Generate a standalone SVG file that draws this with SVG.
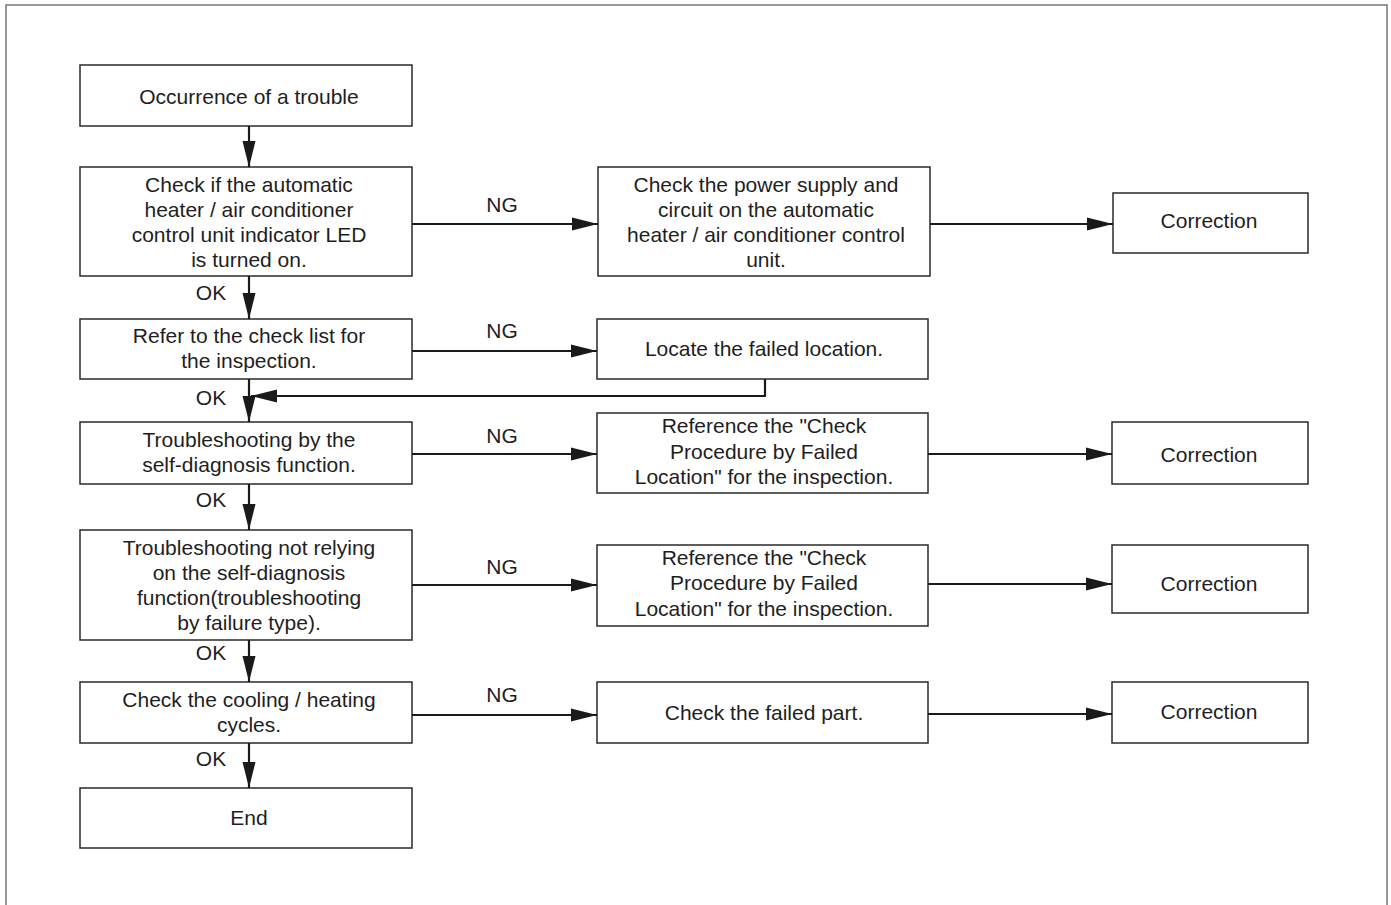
<svg xmlns="http://www.w3.org/2000/svg" width="1391" height="905" viewBox="0 0 1391 905">
<defs>
<marker id="ah" markerUnits="userSpaceOnUse" markerWidth="30" markerHeight="16" refX="26" refY="7" orient="auto" overflow="visible">
<path d="M0,0.5 L8,2.5 L26,7 L8,11.5 L0,13.5 Z" fill="#1a1a1a"/>
</marker>
<style>
.box{fill:#fff;stroke:#2a2a2a;stroke-width:1.5}
.t{font-family:"Liberation Sans",Arial,sans-serif;font-size:21px;fill:#1e1e1e;text-anchor:middle}
.lbl{font-family:"Liberation Sans",Arial,sans-serif;font-size:21px;fill:#1e1e1e;text-anchor:middle}
.c{fill:none;stroke:#1a1a1a;stroke-width:2.2;marker-end:url(#ah)}
.frame{fill:none;stroke:#777;stroke-width:1.5}
</style>
</defs>
<rect width="1391" height="905" fill="#fff"/>
<path class="frame" d="M6,905 V5 H1387 V905"/>

<g id="n1"><rect class="box" x="80" y="65" width="332" height="61"/><text class="t" x="249" y="104">Occurrence of a trouble</text></g>
<g id="n2"><rect class="box" x="80" y="167" width="332" height="109"/>
<text class="t" x="249" y="192">Check if the automatic</text>
<text class="t" x="249" y="217">heater / air conditioner</text>
<text class="t" x="249" y="242">control unit indicator LED</text>
<text class="t" x="249" y="267">is turned on.</text></g>
<g id="n3"><rect class="box" x="80" y="319" width="332" height="60"/>
<text class="t" x="249" y="343">Refer to the check list for</text>
<text class="t" x="249" y="368">the inspection.</text></g>
<g id="n4"><rect class="box" x="80" y="422" width="332" height="62"/>
<text class="t" x="249" y="447">Troubleshooting by the</text>
<text class="t" x="249" y="472">self-diagnosis function.</text></g>
<g id="n5"><rect class="box" x="80" y="530" width="332" height="110"/>
<text class="t" x="249" y="555">Troubleshooting not relying</text>
<text class="t" x="249" y="580">on the self-diagnosis</text>
<text class="t" x="249" y="605">function(troubleshooting</text>
<text class="t" x="249" y="630">by failure type).</text></g>
<g id="n6"><rect class="box" x="80" y="682" width="332" height="61"/>
<text class="t" x="249" y="707">Check the cooling / heating</text>
<text class="t" x="249" y="732">cycles.</text></g>
<g id="n7"><rect class="box" x="80" y="788" width="332" height="60"/>
<text class="t" x="249" y="825">End</text></g>

<g id="a1"><rect class="box" x="598" y="167" width="332" height="109"/>
<text class="t" x="766" y="192">Check the power supply and</text>
<text class="t" x="766" y="217">circuit on the automatic</text>
<text class="t" x="766" y="242">heater / air conditioner control</text>
<text class="t" x="766" y="267">unit.</text></g>
<g id="b1"><rect class="box" x="597" y="319" width="331" height="60"/>
<text class="t" x="764" y="356">Locate the failed location.</text></g>
<g id="c1"><rect class="box" x="597" y="413" width="331" height="80"/>
<text class="t" x="764" y="433">Reference the "Check</text>
<text class="t" x="764" y="459">Procedure by Failed</text>
<text class="t" x="764" y="484">Location" for the inspection.</text></g>
<g id="d1"><rect class="box" x="597" y="545" width="331" height="81"/>
<text class="t" x="764" y="565">Reference the "Check</text>
<text class="t" x="764" y="590">Procedure by Failed</text>
<text class="t" x="764" y="616">Location" for the inspection.</text></g>
<g id="e1"><rect class="box" x="597" y="682" width="331" height="61"/>
<text class="t" x="764" y="720">Check the failed part.</text></g>

<g id="r1"><rect class="box" x="1113" y="193" width="195" height="60"/><text class="t" x="1209" y="228">Correction</text></g>
<g id="r2"><rect class="box" x="1112" y="422" width="196" height="62"/><text class="t" x="1209" y="462">Correction</text></g>
<g id="r3"><rect class="box" x="1112" y="545" width="196" height="68"/><text class="t" x="1209" y="591">Correction</text></g>
<g id="r4"><rect class="box" x="1112" y="682" width="196" height="61"/><text class="t" x="1209" y="719">Correction</text></g>

<g id="connectors">
<path class="c" d="M249,126 V167"/>
<path class="c" d="M249,276 V319"/>
<path class="c" d="M249,379 V422"/>
<path class="c" d="M249,484 V530"/>
<path class="c" d="M249,640 V682"/>
<path class="c" d="M249,743 V788"/>
<path class="c" d="M412,224 H598"/>
<path class="c" d="M412,351 H597"/>
<path class="c" d="M412,454 H597"/>
<path class="c" d="M412,585 H597"/>
<path class="c" d="M412,715 H597"/>
<path class="c" d="M930,224 H1113"/>
<path class="c" d="M928,454 H1112"/>
<path class="c" d="M928,584 H1112"/>
<path class="c" d="M928,714 H1112"/>
<path class="c" d="M765,379 V396 H251"/>
</g>
<g id="labels">
<text class="lbl" x="502" y="212">NG</text>
<text class="lbl" x="502" y="338">NG</text>
<text class="lbl" x="502" y="443">NG</text>
<text class="lbl" x="502" y="574">NG</text>
<text class="lbl" x="502" y="702">NG</text>
<text class="lbl" x="211" y="300">OK</text>
<text class="lbl" x="211" y="405">OK</text>
<text class="lbl" x="211" y="507">OK</text>
<text class="lbl" x="211" y="660">OK</text>
<text class="lbl" x="211" y="766">OK</text>
</g>
</svg>
